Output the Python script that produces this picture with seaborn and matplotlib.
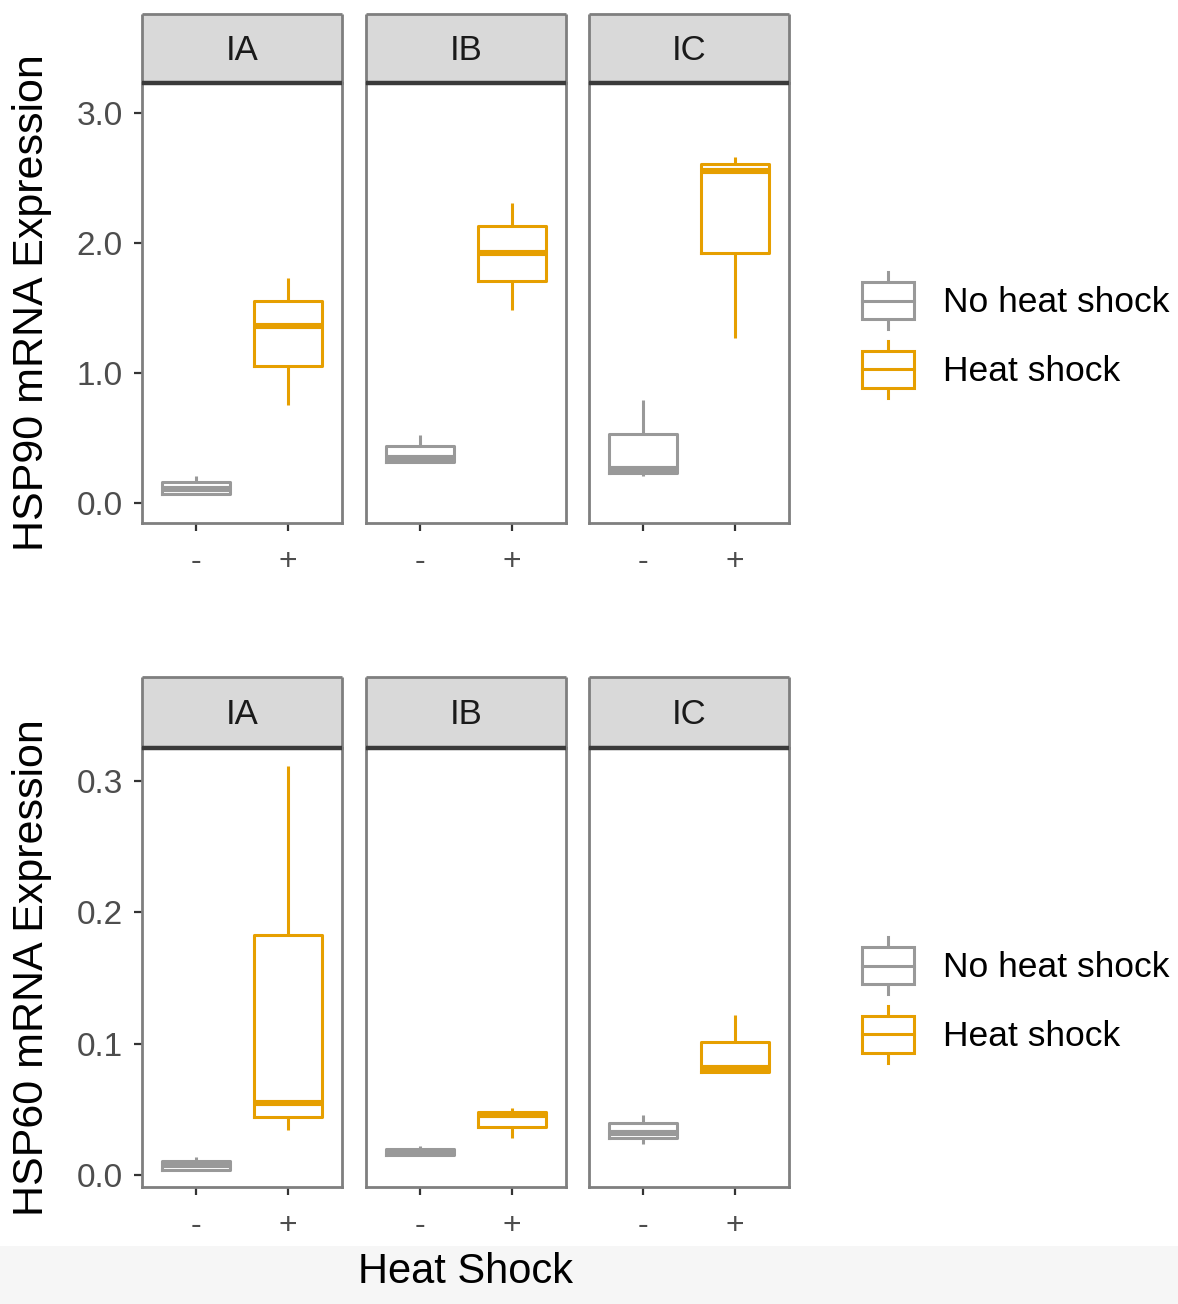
import numpy as np
import pandas as pd
import seaborn as sns
import matplotlib.pyplot as plt
from matplotlib.legend_handler import HandlerBase
from matplotlib.patches import Rectangle, Patch
from matplotlib.lines import Line2D

# facets and groups
lines = ["IA", "IB", "IC"]
shock_order = ["-", "+"]
shock_labels = ["No heat shock", "Heat shock"]
shock_colors = ["#999999", "#E69F00"]

# replicate values per line (IA, IB, IC), estimated from the boxes
hsp90_no_shock = [
    [0.065, 0.07, 0.11, 0.165, 0.205],
    [0.31, 0.313, 0.346, 0.436, 0.526],
    [0.205, 0.23, 0.26, 0.533, 0.795],
]
hsp90_heat_shock = [
    [0.756, 1.05, 1.36, 1.55, 1.73],
    [1.487, 1.705, 1.92, 2.13, 2.31],
    [1.27, 1.92, 2.55, 2.61, 2.66],
]
hsp60_no_shock = [
    [0.0038, 0.0040, 0.0074, 0.011, 0.014],
    [0.015, 0.0153, 0.017, 0.0196, 0.0221],
    [0.0236, 0.028, 0.0318, 0.040, 0.0458],
]
hsp60_heat_shock = [
    [0.0343, 0.0445, 0.0547, 0.183, 0.3115],
    [0.028, 0.0364, 0.0458, 0.0483, 0.0509],
    [0.078, 0.0788, 0.0814, 0.101, 0.122],
]

hsp90_ticks = [0.0, 1.0, 2.0, 3.0]
hsp60_ticks = [0.0, 0.1, 0.2, 0.3]

rows = []
for gene, no, hs in [("HSP90", hsp90_no_shock, hsp90_heat_shock),
                     ("HSP60", hsp60_no_shock, hsp60_heat_shock)]:
    for i, ln in enumerate(lines):
        for v in no[i]:
            rows.append((gene, ln, "-", v))
        for v in hs[i]:
            rows.append((gene, ln, "+", v))
df = pd.DataFrame(rows, columns=["gene", "line", "shock", "value"])

palette = dict(zip(shock_order, shock_colors))

W, H = 1178, 1304
fig = plt.figure(figsize=(W / 100, H / 100), dpi=100)
plt.rcParams['font.family'] = ['Liberation Sans', 'DejaVu Sans']

# light band at the very bottom
fig.patches.append(Rectangle((0, 0), 1, (H - 1246) / H, transform=fig.transFigure,
                             facecolor="#f6f6f6", edgecolor="none", zorder=-5))


def frac(x0, y0, x1, y1):
    return [x0 / W, 1 - y1 / H, (x1 - x0) / W, (y1 - y0) / H]


panel_x = [(142, 342), (366, 566), (589, 789)]
rows_layout = [
    # gene, strip top, panel top, panel bottom, ylim, ticks, label, legend y
    ("HSP90", 14, 83, 523, (-0.154, 3.23), hsp90_ticks, "HSP90 mRNA Expression", 335),
    ("HSP60", 677, 748, 1187, (-0.009, 0.325), hsp60_ticks, "HSP60 mRNA Expression", 1000),
]

border = "#7f7f7f"
tick_col = "#333333"
label_col = "#4d4d4d"


class BoxKey(HandlerBase):
    def create_artists(self, legend, orig_handle, xdescent, ydescent,
                       width, height, fontsize, trans):
        c = orig_handle.get_edgecolor()
        x0, y0 = -xdescent, -ydescent
        bh = height * 0.64
        by = y0 + (height - bh) / 2
        xm = x0 + width / 2
        rect = Rectangle((x0, by), width, bh, facecolor="white", edgecolor=c,
                         lw=2.2, transform=trans)
        med = Line2D([x0, x0 + width], [y0 + height / 2] * 2, color=c, lw=2.2,
                     transform=trans)
        wt = Line2D([xm, xm], [by + bh, y0 + height], color=c, lw=2.2, transform=trans)
        wb = Line2D([xm, xm], [y0, by], color=c, lw=2.2, transform=trans)
        return [wt, wb, rect, med]


for gene, s_top, p_top, p_bot, ylim, ticks, ylabel, leg_y in rows_layout:
    for j, ln in enumerate(lines):
        x0, x1 = panel_x[j]
        ax = fig.add_axes(frac(x0, p_top, x1, p_bot))
        sub = df[(df["gene"] == gene) & (df["line"] == ln)]
        sns.boxplot(data=sub, x="shock", y="value", hue="shock", order=shock_order,
                    hue_order=shock_order, palette=palette, fill=False, dodge=False,
                    width=0.73, linewidth=2.2, showcaps=False,
                    medianprops=dict(linewidth=4.4), legend=False, ax=ax)
        ax.set_xlim(-0.587, 1.587)
        ax.set_ylim(*ylim)
        ax.set_xlabel("")
        ax.set_ylabel("")
        for sp in ax.spines.values():
            sp.set_color(border)
            sp.set_linewidth(2)
        ax.tick_params(axis="x", length=6, width=1.6, color=tick_col,
                       labelsize=23, labelcolor=label_col, pad=11)
        if j == 0:
            ax.set_yticks(ticks)
            ax.set_yticklabels([f"{t:.1f}" for t in ticks])
            ax.tick_params(axis="y", length=6, width=1.6, color=tick_col,
                           labelsize=24, labelcolor=label_col, pad=8)
        else:
            ax.tick_params(axis="y", left=False, labelleft=False)

        # facet strip
        sax = fig.add_axes(frac(x0, s_top, x1, p_top))
        sax.set_facecolor("#d9d9d9")
        sax.set_xticks([])
        sax.set_yticks([])
        for sp in sax.spines.values():
            sp.set_color(border)
            sp.set_linewidth(2)
            sp.set_capstyle("butt")
        sax.spines["bottom"].set_color("#3a3a3a")
        sax.spines["bottom"].set_linewidth(3.2)
        sax.text(0.5, 0.47, ln, ha="center", va="center", fontsize=25, color="#1a1a1a",
                 transform=sax.transAxes)

    fig.text(32 / W, 1 - (p_top + p_bot) / 2 / H, ylabel, rotation=90,
             ha="center", va="center", fontsize=31, color="black")

    handles = [Patch(edgecolor=c, facecolor="white") for c in shock_colors]
    fig.legend(handles, shock_labels, handler_map={Patch: BoxKey()},
               loc="center left", bbox_to_anchor=(862 / W, 1 - leg_y / H),
               frameon=False, fontsize=25.5, handlelength=1.48, handleheight=2.1,
               handletextpad=0.8, labelspacing=0.33, borderpad=0, borderaxespad=0)

fig.text(465.5 / W, 1 - 1272 / H, "Heat Shock", ha="center", va="center",
         fontsize=30, color="black")

fig.savefig("out.png", dpi=100)
